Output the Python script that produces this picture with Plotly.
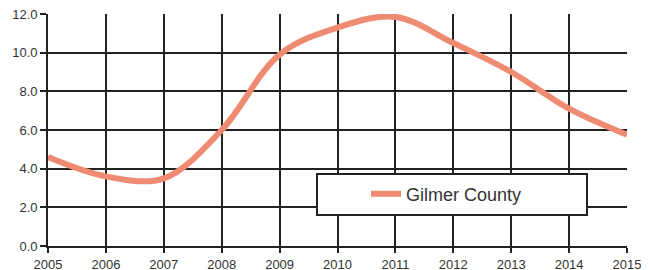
import plotly.graph_objects as go

years = [2005, 2006, 2007, 2008, 2009, 2010, 2011, 2012, 2013, 2014, 2015]
gilmer = [4.6, 3.6, 3.5, 6.0, 9.9, 11.3, 11.85, 10.5, 9.0, 7.1, 5.75]
y_ticks = [0, 2, 4, 6, 8, 10, 12]
series_name = "Gilmer County"

fig = go.Figure()
fig.add_trace(go.Scatter(
    x=years, y=gilmer, name=series_name, mode="lines",
    line=dict(color="#EE8B72", width=6, shape="spline", smoothing=1.0),
    showlegend=True,
))

# page body has an 8px margin; the figure is sized/offset to compensate
OFF = 8
W, H = 649 - OFF, 270 - OFF
ml, mr, mt, mb = 48 - OFF, 22, 14 - OFF, 24
pw = W - ml - mr
ph = H - mt - mb

def px2paper_x(p):
    return (p - OFF - ml) / pw

def px2paper_y(p):
    return (H - mb - (p - OFF)) / ph

# legend frame
fig.add_shape(type="rect", xref="paper", yref="paper",
              x0=px2paper_x(317), x1=px2paper_x(587),
              y0=px2paper_y(215), y1=px2paper_y(174),
              fillcolor="white", line=dict(color="#222222", width=2),
              layer="above")

fig.update_layout(
    width=W, height=H,
    margin=dict(l=ml, r=mr, t=mt, b=mb, autoexpand=False),
    paper_bgcolor="white", plot_bgcolor="white",
    font=dict(family="Liberation Sans, Arial, sans-serif", color="#333333", size=13),
    showlegend=True,
    legend=dict(x=px2paper_x(366), y=px2paper_y(194), xanchor="left", yanchor="middle",
                bgcolor="rgba(0,0,0,0)", borderwidth=0,
                font=dict(size=18, color="#333333")),
    xaxis=dict(range=[2005, 2015], tickvals=years, ticktext=[str(y) for y in years],
               showgrid=True, gridcolor="#222222", gridwidth=1.8,
               ticks="outside", ticklen=5, tickcolor="#222222", tickwidth=1.5,
               showline=True, linecolor="#222222", linewidth=1.8,
               zeroline=False, tickfont=dict(size=13), automargin=False,
               ticklabeloverflow="allow"),
    yaxis=dict(range=[0, 12], tickvals=y_ticks, tickformat=".1f",
               showgrid=True, gridcolor="#222222", gridwidth=1.8,
               ticks="outside", ticklen=6, tickcolor="#222222", tickwidth=1.5,
               showline=True, linecolor="#222222", linewidth=1.8,
               zeroline=False, tickfont=dict(size=13), automargin=False,
               ticklabeloverflow="allow"),
)

fig.write_html("out.html")
